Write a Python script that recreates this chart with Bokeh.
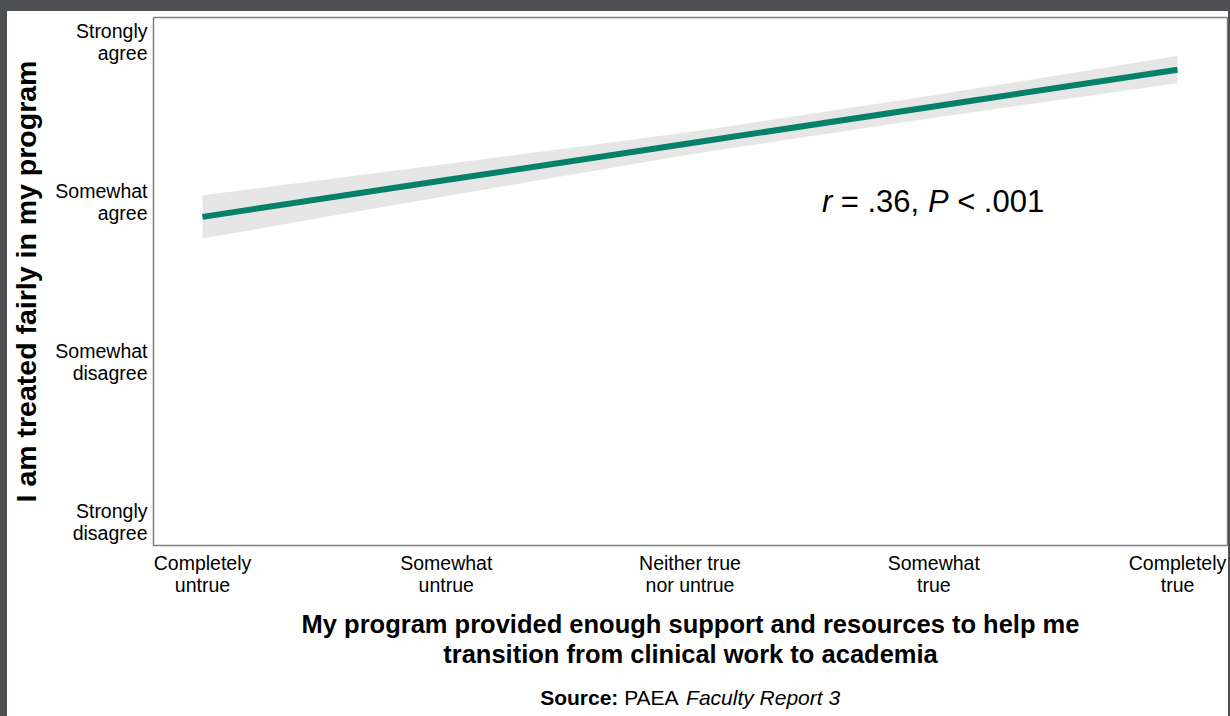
from bokeh.plotting import figure
from bokeh.models import FixedTicker, Label, ColumnDataSource, Range1d, Spacer
from bokeh.layouts import column, row
from bokeh.core.properties import value
from bokeh.embed import file_html
from bokeh.resources import INLINE

# ---- data ----
x_ticks = [1, 2, 3, 4, 5]
x_labels = ["Completely\nuntrue", "Somewhat\nuntrue", "Neither true\nnor untrue",
            "Somewhat\ntrue", "Completely\ntrue"]
y_ticks = [1, 2, 3, 4]
y_labels = ["Strongly\ndisagree", "Somewhat\ndisagree", "Somewhat\nagree", "Strongly\nagree"]

fit_x = [1, 2, 3, 4, 5]
fit_y = [2.91, 3.14, 3.37, 3.60, 3.83]
ci_low = [2.775, 3.04, 3.30, 3.53, 3.745]
ci_high = [3.045, 3.24, 3.44, 3.67, 3.915]

x_title = "My program provided enough support and resources to help me\ntransition from clinical work to academia"
y_title = "I am treated fairly in my program"
stat_parts = ["r", "= .36,", "P", "< .001"]
source_parts = ["Source:", "PAEA", "Faculty Report 3"]

FONT = "Liberation Sans"
GREEN = "#07806a"
DARK = "#4e4f53"
PAD_L, PAD_T, PAD_R = 7, 11, 2
W = 1230 - PAD_L - PAD_R
H_MAIN = 665
H_SRC = 40


def px_to_x(px):
    return 1 + (px - 202) / 244.0


def py_to_y(py):
    return 1 + (522 - py) / 160.0


p = figure(width=W, height=H_MAIN, output_backend="svg", toolbar_location=None,
           x_range=Range1d(0.799, 5.205), y_range=Range1d(0.856, 4.156),
           min_border_left=153 - PAD_L, min_border_right=1, min_border_top=17 - PAD_T,
           min_border_bottom=PAD_T + H_MAIN - 545)
p.background_fill_color = "white"
p.border_fill_color = "white"
p.outline_line_color = "#808080"
p.outline_line_width = 1.5
p.xgrid.visible = False
p.ygrid.visible = False

for ax in (p.xaxis[0], p.yaxis[0]):
    ax.axis_line_color = None
    ax.major_tick_line_color = None
    ax.minor_tick_line_color = None
    ax.major_label_text_font = FONT
    ax.major_label_text_font_size = "19.5px"
    ax.major_label_text_color = "black"
    ax.major_label_text_line_height = 1.0
    ax.axis_label_text_font = FONT
    ax.axis_label_text_font_style = "bold"
    ax.axis_label_text_color = "black"

xa = p.xaxis[0]
xa.ticker = FixedTicker(ticks=x_ticks)
xa.major_label_overrides = {t: l for t, l in zip(x_ticks, x_labels)}
xa.major_label_standoff = 0
xa.axis_label = x_title
xa.axis_label_text_font_size = "25.5px"
xa.axis_label_text_line_height = 1.1
xa.axis_label_standoff = 11

ya = p.yaxis[0]
ya.ticker = FixedTicker(ticks=y_ticks)
ya.major_label_overrides = {t: l for t, l in zip(y_ticks, y_labels)}
ya.major_label_standoff = 0
ya.axis_label = y_title
ya.axis_label_text_font_size = "28.5px"
ya.axis_label_standoff = 10

src = ColumnDataSource(dict(x=fit_x, y=fit_y, lo=ci_low, hi=ci_high))
p.varea(x="x", y1="lo", y2="hi", source=src, fill_color="#e6e6e6", fill_alpha=1)
p.line(x="x", y="y", source=src, line_color=GREEN, line_width=6)

# stat annotation (inside the frame, data units)
k = 31 / 30.0
for txt, style, off in zip(stat_parts, ["italic", "normal", "italic", "normal"],
                           [0.0, 18.3, 102.6, 130.9]):
    p.add_layout(Label(x=px_to_x(822), y=py_to_y(201), text=txt, x_offset=off * k,
                       text_font=FONT, text_font_size="31px", text_font_style=style,
                       text_align="left", text_baseline="middle", text_color="black"))

# source line: a bare strip below the chart sharing the x scale
s = figure(width=W, height=H_SRC, output_backend="svg", toolbar_location=None,
           x_range=p.x_range, y_range=Range1d(0, H_SRC),
           min_border_left=0, min_border_right=0, min_border_top=0, min_border_bottom=0)
s.axis.visible = False
s.grid.visible = False
s.outline_line_color = None
s.background_fill_color = "white"
s.border_fill_color = "white"
for txt, style, off in zip(source_parts, ["bold", "normal", "italic"], [0.0, 84.0, 145.9]):
    s.text(x=[px_to_x(540)], y=[H_SRC - 21], text=[txt], x_offset=off,
           text_font=value(FONT), text_font_size="21px", text_font_style=style,
           text_align="left", text_baseline="middle", text_color="black")

dark = {"background-color": DARK}
inner = column(Spacer(width=W, height=PAD_T, styles=dark), p, s, spacing=0)
layout = row(Spacer(width=PAD_L, height=716, styles=dark), inner,
             Spacer(width=PAD_R, height=716, styles=dark), spacing=0)
html = file_html(layout, INLINE)
open("out.html", "w").write(html)
